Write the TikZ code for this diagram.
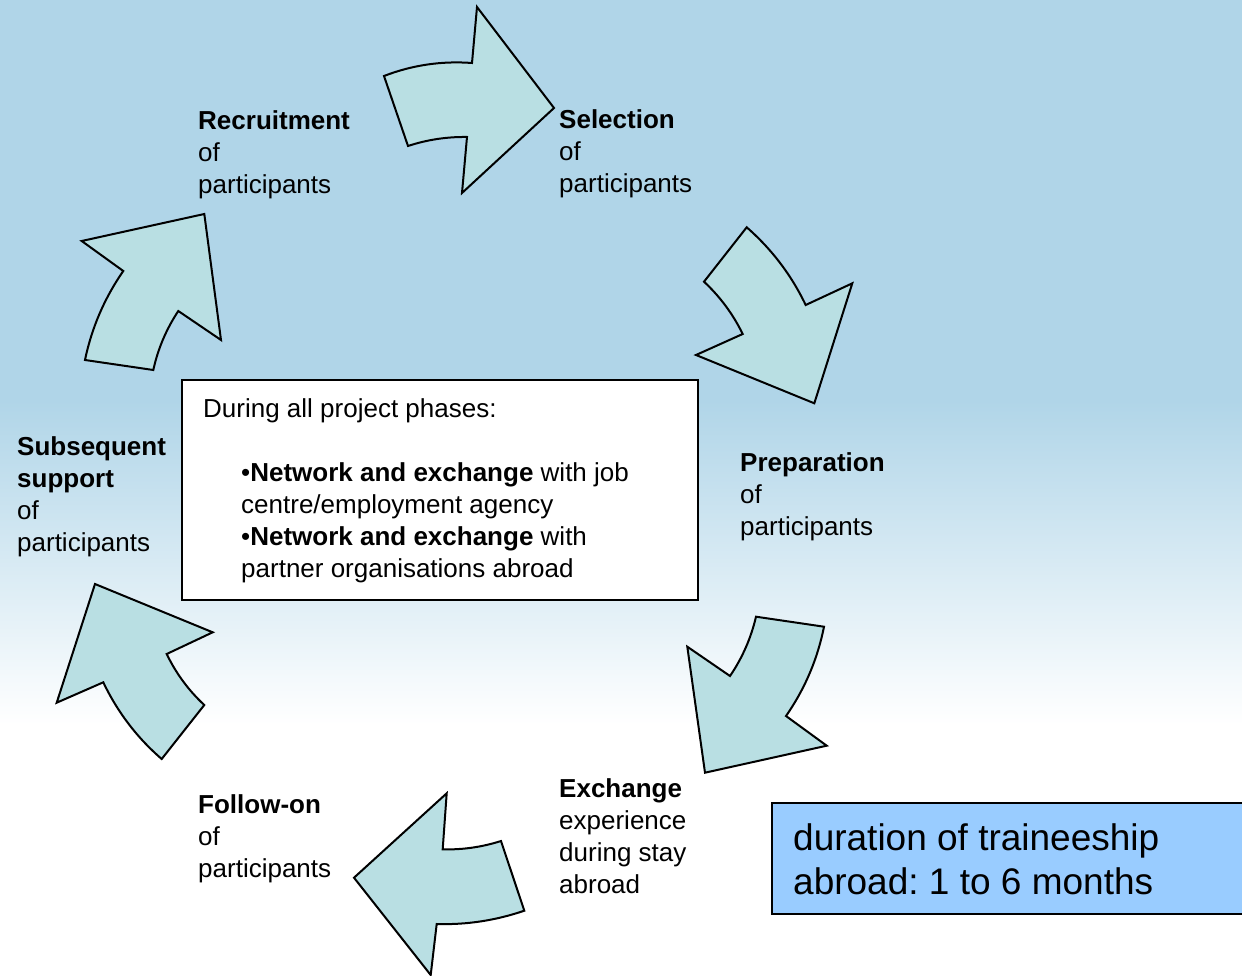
\documentclass[tikz,border=0pt]{standalone}
\usepackage{fontspec}
\setmainfont{Liberation Sans}
\usetikzlibrary{calc}
\definecolor{bgblue}{RGB}{176,213,232}
\definecolor{arrowfill}{RGB}{185,223,227}
\definecolor{durblue}{RGB}{153,204,255}
\frenchspacing
\begin{document}
\begin{tikzpicture}[x=1pt,y=-1pt,
  cyclearrow/.style={draw=black,fill=arrowfill,line width=2pt,line join=miter},
  lbl/.style={anchor=base west,inner sep=0pt,align=left,font=\fontsize{26}{32}\selectfont},
  boxtxt/.style={anchor=base west,inner sep=0pt,align=left,font=\fontsize{26}{32}\selectfont},
  durtxt/.style={anchor=base west,inner sep=0pt,align=left,font=\fontsize{37}{44}\selectfont}]
\useasboundingbox (0,0) rectangle (1242,976);
% background
\fill[bgblue] (0,0) rectangle (1242,401);
\shade[top color=bgblue,bottom color=white] (0,400) rectangle (1242,725);
\fill[white] (0,724) rectangle (1242,976);
% arrows (curved edges: quadratic arcs written as cubics)
\path[cyclearrow] (384,76) .. controls ($(384,76)!.6667!(426.5,59.6)$) and ($(472,63)!.6667!(426.5,59.6)$) .. (472,63) -- (477,7) -- (554,108) -- (462,193) -- (467,137) .. controls ($(467,137)!.6667!(436.75,136.55)$) and ($(408,146)!.6667!(436.75,136.55)$) .. (408,146) -- cycle;
\path[cyclearrow] (746.7,227.3) .. controls ($(746.7,227.3)!.6667!(784.15,260.05)$) and ($(805.7,305)!.6667!(784.15,260.05)$) .. (805.7,305) -- (852.3,283.3) -- (814.3,403.3) -- (696,355) -- (742.7,334) .. controls ($(742.7,334)!.6667!(728.2,304.3)$) and ($(704,281.7)!.6667!(728.2,304.3)$) .. (704,281.7) -- cycle;
\path[cyclearrow] (756,616.7) -- (824,626.7) .. controls ($(824,626.7)!.6667!(814.3,675.3)$) and ($(786,716)!.6667!(814.3,675.3)$) .. (786,716) -- (826.7,745.7) -- (705,772.7) -- (687.3,646.7) -- (730,676) .. controls ($(730,676)!.6667!(748.5,648.8)$) and ($(756,616.7)!.6667!(748.5,648.8)$) .. cycle;
\path[cyclearrow] (446.7,793.3) -- (442.7,849.3) .. controls ($(442.7,849.3)!.6667!(472.1,850.2)$) and ($(501,841)!.6667!(472.1,850.2)$) .. (501,841) -- (524.3,910.7) .. controls ($(524.3,910.7)!.6667!(481.25,925.4)$) and ($(436.7,924)!.6667!(481.25,925.4)$) .. (436.7,924) -- (430.7,975) -- (354,877.7) -- cycle;
\path[cyclearrow] (95,584) -- (212.7,632.3) -- (166.7,654) .. controls ($(166.7,654)!.6667!(180.7,683.1)$) and ($(204.3,705)!.6667!(180.7,683.1)$) .. (204.3,705) -- (161.7,759) .. controls ($(161.7,759)!.6667!(124.55,726.9)$) and ($(103.3,682.3)!.6667!(124.55,726.9)$) .. (103.3,682.3) -- (56.7,702.7) -- cycle;
\path[cyclearrow] (81.7,241) -- (204.3,214) -- (221,340) -- (178.3,311) .. controls ($(178.3,311)!.6667!(160.25,338.25)$) and ($(153.3,370)!.6667!(160.25,338.25)$) .. (153.3,370) -- (85,360) .. controls ($(85,360)!.6667!(95.1,311.6)$) and ($(123.3,271)!.6667!(95.1,311.6)$) .. (123.3,271) -- cycle;
% labels (base anchor = baseline of the last line)
\node[lbl] (recruit) at (198,194) {\textbf{Recruitment}\\of\\participants};
\node[lbl] (select) at (559,193) {\textbf{Selection}\\of\\participants};
\node[lbl] (prep) at (740,535) {\textbf{Preparation}\\of\\participants};
\node[lbl] (exch) at (559,893) {\textbf{Exchange}\\experience\\during stay\\abroad};
\node[lbl] (follow) at (198,877) {\textbf{Follow-on}\\of\\participants};
\node[lbl] (subseq) at (17,551) {\textbf{Subsequent}\\\textbf{support}\\of\\participants};
% central box
\node[draw=black,fill=white,line width=1.6pt,minimum width=516pt,minimum height=220pt,inner sep=0pt] (box) at (440,490) {};
\node[boxtxt] (during) at (203,417) {During all project phases:};
\node[boxtxt] (bullets) at (241,577) {•\textbf{Network and exchange} with job\\centre/employment agency\\•\textbf{Network and exchange} with\\partner organisations abroad};
% duration box
\node[draw=black,fill=durblue,line width=1.6pt,minimum width=480pt,minimum height=111pt,inner sep=0pt] (dur) at (1012,858.5) {};
\node[durtxt] (durtext) at (793,894) {duration of traineeship\\abroad: 1 to 6 months};
\end{tikzpicture}
\end{document}
